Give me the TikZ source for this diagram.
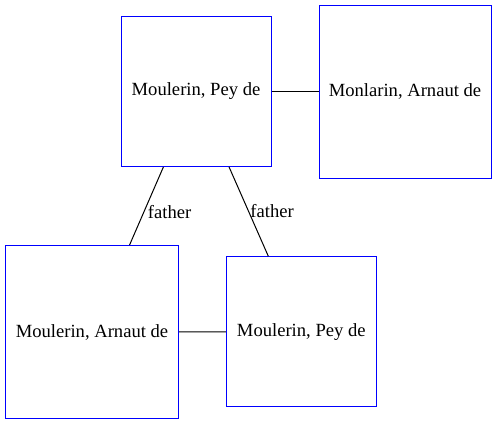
\documentclass[tikz,border=0pt]{standalone}
\usepackage{fontspec}
\setmainfont{Liberation Serif}
\begin{document}
\begin{tikzpicture}
    [
        x=1pt, y=-1pt,
        person/.style={rectangle, draw=blue, line width=1pt, inner sep=0pt, font=\fontsize{18.6}{22}\selectfont},
        link/.style={line width=1pt},
        lbl/.style={inner sep=0pt, anchor=base west, font=\fontsize{18.6}{22}\selectfont},
    ]
    \useasboundingbox (0,0) rectangle (497,424);

    % family boxes
    \node (pey1) at (196,91.5)   [person, minimum width=150pt, minimum height=150pt] {Moulerin, Pey de};
    \node (arn1) at (405,91.5)   [person, minimum width=172pt, minimum height=173pt] {Monlarin, Arnaut de};
    \node (arn2) at (92,332)     [person, minimum width=173pt, minimum height=173pt] {Moulerin, Arnaut de};
    \node (pey2) at (301.3,331.7) [person, minimum width=150pt, minimum height=150pt] {Moulerin, Pey de};

    \draw [link] (pey1) -- (arn1);
    \draw [link] (arn2) -- (pey2);
    \draw [link] (pey1) -- node [lbl, xshift=1pt, yshift=-12.5pt] {father} (arn2);
    \draw [link] (pey1) -- node [lbl, xshift=1.3pt, yshift=-6pt] {father} (pey2);

\end{tikzpicture}
\end{document}
